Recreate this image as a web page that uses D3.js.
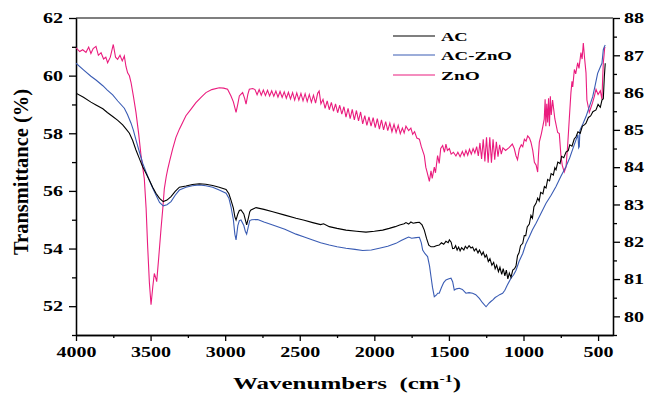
<!DOCTYPE html>
<html>
<head>
<meta charset="utf-8">
<script src="https://cdn.jsdelivr.net/npm/d3@7"></script>
<style>
  body { margin: 0; background: #fff; }
  svg { display: block; }
  text { font-family: "Liberation Serif", "Times New Roman", serif; font-weight: bold; }
</style>
</head>
<body>
<div id="chart"></div>
<script>
// series names and colours
const seriesNames = ["AC", "AC-ZnO", "ZnO"];
const seriesColors = ["#000000", "#3a5cb4", "#ea1c7e"];

// tick labels
const xTicks = [4000, 3500, 3000, 2500, 2000, 1500, 1000, 500];
const xMinor = [3750, 3250, 2750, 2250, 1750, 1250, 750];
const leftTicks = [52, 54, 56, 58, 60, 62];
const leftMinor = [51, 53, 55, 57, 59, 61];
const rightTicks = [80, 81, 82, 83, 84, 85, 86, 87, 88];
const rightMinor = [79.5, 80.5, 81.5, 82.5, 83.5, 84.5, 85.5, 86.5, 87.5];

// AC : [wavenumber, transmittance] (left axis)
const acData = [[4000,59.39],[3950,59.25],[3900,59.08],[3866,58.98],[3820,58.85],[3790,58.72],[3754,58.58],[3720,58.45],[3687,58.29],[3665,58.15],[3642,58.0],[3620,57.75],[3598,57.42],[3575,57.12],[3553,56.84],[3530,56.6],[3509,56.38],[3486,56.13],[3464,55.92],[3440,55.74],[3415,55.63],[3390,55.68],[3363,55.8],[3335,55.98],[3307,56.13],[3263,56.17],[3220,56.22],[3173,56.25],[3130,56.23],[3084,56.19],[3040,56.13],[2994,56.05],[2975,55.9],[2961,55.68],[2945,55.4],[2935,55.1],[2927,54.99],[2915,55.2],[2905,55.32],[2894,55.34],[2875,55.2],[2865,55.0],[2856,54.82],[2845,55.05],[2835,55.28],[2827,55.34],[2793,55.42],[2740,55.36],[2681,55.28],[2600,55.16],[2525,55.05],[2470,54.98],[2413,54.9],[2360,54.83],[2340,54.86],[2302,54.76],[2250,54.7],[2190,54.64],[2120,54.6],[2056,54.57],[2000,54.6],[1944,54.64],[1900,54.7],[1860,54.76],[1830,54.82],[1800,54.86],[1788,54.9],[1770,54.85],[1755,54.92],[1740,54.88],[1720,54.9],[1698,54.91],[1680,54.82],[1665,54.64],[1650,54.35],[1635,54.12],[1620,54.06],[1600,54.06],[1585,54.1],[1565,54.12],[1550,54.2],[1535,54.15],[1520,54.25],[1505,54.2],[1497,54.3],[1485,54.22],[1475,54.0],[1464,54.01],[1455,54.1],[1445,53.95],[1435,54.05],[1425,53.92],[1415,54.03],[1400,53.95],[1390,54.08],[1378,54.0],[1365,54.1],[1352,54.02],[1341,54.05],[1330,53.92],[1318,54.0],[1305,53.85],[1295,53.95],[1280,53.78],[1270,53.88],[1258,53.7],[1248,53.78],[1236,53.55],[1225,53.65],[1212,53.42],[1200,53.52],[1190,53.3],[1180,53.42],[1168,53.2],[1158,53.35],[1146,53.1],[1136,53.3],[1125,53.05],[1115,53.25],[1105,52.95],[1095,53.15],[1084,53.0],[1072,53.25],[1060,53.3],[1050,53.4],[1040,53.75],[1030,53.85],[1020,54.1],[1005,54.18],[995,54.45],[985,54.45],[975,54.75],[961,54.85],[950,55.15],[940,55.05],[930,55.45],[916,55.57],[905,55.75],[895,55.65],[885,55.95],[870,55.9],[860,56.15],[849,56.1],[838,56.4],[825,56.35],[815,56.6],[800,56.55],[790,56.8],[782,56.73],[770,57.0],[755,56.95],[745,57.2],[730,57.15],[715,57.35],[700,57.4],[690,57.6],[675,57.55],[660,57.8],[648,57.88],[635,58.05],[620,58.0],[605,58.25],[590,58.3],[581,58.35],[565,58.55],[550,58.6],[535,58.75],[514,58.81],[500,59.0],[485,58.9],[474,59.15],[465,59.2],[458,59.96],[452,60.43]];

// AC-ZnO (left axis)
const acZnoData = [[4000,60.43],[3950,60.2],[3900,59.98],[3866,59.85],[3820,59.65],[3790,59.5],[3754,59.33],[3720,59.12],[3676,58.87],[3655,58.65],[3631,58.35],[3615,58.1],[3598,57.77],[3575,57.35],[3553,56.96],[3530,56.65],[3509,56.38],[3486,56.1],[3464,55.86],[3440,55.6],[3415,55.48],[3390,55.52],[3363,55.63],[3335,55.85],[3307,56.03],[3263,56.13],[3220,56.18],[3173,56.21],[3130,56.18],[3084,56.13],[3040,56.03],[2994,55.92],[2975,55.75],[2961,55.45],[2945,55.0],[2935,54.5],[2927,54.3],[2915,54.8],[2905,54.97],[2894,54.99],[2875,54.8],[2865,54.6],[2856,54.5],[2845,54.75],[2835,54.97],[2822,55.0],[2782,55.01],[2740,54.92],[2681,54.82],[2600,54.67],[2525,54.5],[2470,54.4],[2413,54.3],[2360,54.2],[2302,54.12],[2250,54.06],[2190,54.01],[2130,53.97],[2078,53.93],[2020,53.95],[1967,54.01],[1910,54.08],[1855,54.18],[1820,54.28],[1788,54.36],[1770,54.4],[1750,54.36],[1720,54.38],[1698,54.39],[1685,54.2],[1676,53.95],[1660,53.82],[1643,53.72],[1630,53.4],[1620,53.02],[1610,52.65],[1598,52.33],[1585,52.38],[1575,52.45],[1565,52.45],[1550,52.65],[1535,52.82],[1520,52.91],[1500,52.95],[1486,52.97],[1475,52.85],[1464,52.56],[1450,52.6],[1430,52.62],[1410,52.58],[1386,52.45],[1365,52.47],[1341,52.45],[1320,52.4],[1296,52.27],[1275,52.12],[1251,51.98],[1240,52.05],[1228,52.12],[1215,52.18],[1207,52.21],[1190,52.3],[1175,52.35],[1160,52.4],[1140,52.45],[1125,52.55],[1110,52.72],[1084,52.97],[1065,53.1],[1050,53.25],[1030,53.55],[1005,53.83],[985,54.15],[961,54.41],[940,54.65],[916,54.88],[880,55.25],[849,55.57],[815,55.85],[782,56.15],[750,56.5],[715,56.85],[690,57.15],[670,57.45],[648,57.77],[635,57.95],[630,57.5],[626,57.54],[622,58.1],[600,58.35],[581,58.58],[560,58.9],[536,59.27],[520,59.65],[503,60.08],[485,60.3],[474,60.43],[465,60.9],[458,61.0],[452,61.06]];

// ZnO (right axis)
const znoData = [[4000,87.2],[3975,87.1],[3955,87.15],[3933,87.08],[3915,87.22],[3900,87.05],[3885,87.18],[3866,87.24],[3850,87.0],[3832,87.07],[3815,86.9],[3800,86.95],[3788,86.8],[3770,86.95],[3750,87.29],[3735,86.95],[3721,86.89],[3705,87.0],[3690,86.85],[3676,86.98],[3665,86.7],[3654,86.53],[3642,86.45],[3631,86.27],[3615,85.9],[3598,85.47],[3580,84.9],[3564,84.31],[3542,83.69],[3530,82.9],[3520,81.91],[3508,80.9],[3497,80.31],[3485,80.8],[3475,81.15],[3467,81.05],[3459,80.93],[3445,81.6],[3430,82.35],[3418,82.9],[3408,83.42],[3395,83.75],[3385,83.95],[3370,84.2],[3352,84.49],[3330,84.8],[3307,85.02],[3285,85.2],[3263,85.38],[3230,85.55],[3196,85.73],[3160,85.88],[3129,86.0],[3090,86.08],[3040,86.13],[3010,86.12],[2984,86.09],[2961,85.91],[2945,85.75],[2927,85.47],[2915,85.7],[2905,85.91],[2895,85.95],[2883,86.0],[2870,85.85],[2860,85.69],[2848,85.95],[2838,86.09],[2815,86.11],
  [2800,86.08],[2786,85.94],[2772,86.08],[2758,85.93],[2744,86.07],[2730,85.92],[2716,86.06],[2702,85.91],[2688,86.05],[2674,85.9],[2660,86.04],[2646,85.88],[2632,86.03],[2618,85.87],[2604,86.02],[2590,85.85],[2576,86.01],[2562,85.83],[2548,86.0],[2534,85.8],[2520,85.99],[2506,85.8],[2492,85.98],[2478,85.78],[2464,85.97],[2450,85.76],[2436,85.95],[2422,85.74],[2408,85.93],[2394,85.72],[2380,85.98],[2370,86.04],[2358,85.7],[2344,85.82],[2330,85.58],[2316,85.78],[2302,85.54],[2288,85.74],[2274,85.5],[2260,85.7],[2246,85.46],[2232,85.66],[2218,85.42],[2204,85.62],[2190,85.34],[2176,85.58],[2162,85.3],[2148,85.55],[2134,85.27],[2120,85.52],[2106,85.24],[2092,85.48],[2078,85.16],[2064,85.38],[2050,85.12],[2036,85.35],[2022,85.1],[2008,85.33],[1994,85.06],[1980,85.3],[1966,85.02],[1952,85.27],[1938,85.0],[1924,85.22],[1910,84.98],[1896,85.18],[1882,84.95],[1868,85.15],[1854,84.93],[1840,85.12],[1826,84.9],[1812,85.05],[1800,84.92],[1788,85.1],
  [1770,84.98],[1755,85.05],[1743,84.88],[1730,84.95],[1715,84.78],[1698,84.75],[1685,84.55],[1665,84.31],[1655,84.0],[1645,83.85],[1631,83.62],[1620,83.9],[1612,83.7],[1598,84.0],[1590,83.85],[1576,84.31],[1565,84.1],[1555,84.5],[1542,84.58],[1530,84.4],[1520,84.62],[1510,84.45],[1497,84.5],[1485,84.35],[1470,84.4],[1453,84.3],[1440,84.4],[1425,84.28],[1410,84.42],[1398,84.3],[1386,84.45],[1374,84.32],[1362,84.48],[1350,84.35],[1338,84.5],[1326,84.38],
  [1314,84.55],[1303,84.3],[1292,84.65],[1281,84.22],[1270,84.75],[1259,84.15],[1248,84.8],[1237,84.12],[1226,84.8],[1215,84.12],[1204,84.75],[1193,84.2],[1182,84.68],[1171,84.28],[1160,84.6],[1149,84.35],[1138,84.52],
  [1120,84.45],[1095,84.53],[1075,84.62],[1062,84.5],[1050,84.3],[1040,84.2],[1028,84.49],[1015,84.6],[1005,84.55],[994,84.75],[983,84.7],[972,84.84],[960,84.78],[950,84.67],[938,84.45],[927,84.13],[915,84.05],[905,83.87],[900,84.3],[894,84.67],[880,84.9],[870,85.1],[861,85.29],[855,85.82],[850,85.1],[844,85.7],[838,85.2],[832,85.85],[826,85.1],[820,85.9],[814,85.4],[805,85.8],[790,85.3],[771,84.93],[760,84.9],[749,84.31],[740,84.05],[727,83.87],[715,84.0],[704,84.58],[693,85.3],[682,86.0],[675,86.3],[670,86.15],[659,86.62],[650,86.5],[637,86.8],[628,86.65],[615,87.07],[607,86.9],[599,87.33],[590,86.9],[581,86.53],[575,85.8],[565,85.6],[559,85.47],[548,85.6],[537,85.73],[525,85.9],[514,86.09],[500,85.95],[485,86.05],[474,85.82],[470,86.3],[465,86.8],[460,87.0],[456,87.2],[452,87.22]];

const width = 646;
const height = 394;
const plotLeft = 76, plotRight = 613, plotTop = 18, plotBottom = 335;

const svg = d3.select("#chart")
  .append("svg")
  .attr("width", width)
  .attr("height", height);

const x = d3.scaleLinear().domain([4000, 400]).range([plotLeft, plotRight]);
const yL = d3.scaleLinear().domain([51, 62]).range([plotBottom, plotTop]);
const yR = d3.scaleLinear().domain([79.5, 88]).range([plotBottom, plotTop]);

svg.append("clipPath").attr("id", "clip")
  .append("rect")
  .attr("x", plotLeft).attr("y", plotTop)
  .attr("width", plotRight - plotLeft).attr("height", plotBottom - plotTop);

// stretch tick labels a bit, the original font is wide
function styleTicks(g) {
  g.selectAll(".tick text")
    .attr("font-size", 15)
    .attr("fill", "#000")
    .attr("textLength", function () { return this.textContent.length * 10; })
    .attr("lengthAdjust", "spacingAndGlyphs");
  g.selectAll("line, path").attr("stroke", "#000").attr("stroke-width", 1.3);
}

// top frame line
svg.append("line")
  .attr("x1", plotLeft).attr("x2", plotRight)
  .attr("y1", plotTop).attr("y2", plotTop)
  .attr("stroke", "#555").attr("stroke-width", 1.3);

// bottom axis
svg.append("g")
  .attr("transform", `translate(0,${plotBottom})`)
  .call(d3.axisBottom(x).tickValues(xTicks).tickFormat(d3.format("d"))
    .tickSize(6).tickSizeOuter(0).tickPadding(5))
  .call(styleTicks);
svg.append("g")
  .attr("transform", `translate(0,${plotBottom})`)
  .call(d3.axisBottom(x).tickValues(xMinor).tickSize(3).tickSizeOuter(0).tickFormat(""))
  .call(styleTicks);

// left axis
svg.append("g")
  .attr("transform", `translate(${plotLeft},0)`)
  .call(d3.axisLeft(yL).tickValues(leftTicks).tickSize(7).tickSizeOuter(0).tickPadding(6))
  .call(styleTicks);
svg.append("g")
  .attr("transform", `translate(${plotLeft},0)`)
  .call(d3.axisLeft(yL).tickValues(leftMinor).tickSize(4).tickSizeOuter(0).tickFormat(""))
  .call(styleTicks);

// right axis
svg.append("g")
  .attr("transform", `translate(${plotRight},0)`)
  .call(d3.axisRight(yR).tickValues(rightTicks).tickSize(7).tickSizeOuter(0).tickPadding(4))
  .call(styleTicks);
svg.append("g")
  .attr("transform", `translate(${plotRight},0)`)
  .call(d3.axisRight(yR).tickValues(rightMinor).tickSize(4).tickSizeOuter(0).tickFormat(""))
  .call(styleTicks);

// spectra
const lineL = d3.line().x(d => x(d[0])).y(d => yL(d[1]));
const lineR = d3.line().x(d => x(d[0])).y(d => yR(d[1]));

const plot = svg.append("g").attr("clip-path", "url(#clip)");
plot.append("path").datum(znoData)
  .attr("d", lineR).attr("fill", "none")
  .attr("stroke", seriesColors[2]).attr("stroke-width", 1.1);
plot.append("path").datum(acZnoData)
  .attr("d", lineL).attr("fill", "none")
  .attr("stroke", seriesColors[1]).attr("stroke-width", 1.1);
plot.append("path").datum(acData)
  .attr("d", lineL).attr("fill", "none")
  .attr("stroke", seriesColors[0]).attr("stroke-width", 1.1);

// axis titles
svg.append("text")
  .attr("transform", "translate(27.5,172) rotate(-90)")
  .attr("text-anchor", "middle")
  .attr("font-size", 20)
  .attr("textLength", 166)
  .attr("lengthAdjust", "spacingAndGlyphs")
  .text("Transmittance (%)");

const xt = svg.append("text")
  .attr("x", 233).attr("y", 389)
  .attr("font-size", 17.5)
  .attr("textLength", 228)
  .attr("lengthAdjust", "spacingAndGlyphs")
  .attr("xml:space", "preserve");
xt.append("tspan").text("Wavenumbers  (cm");
xt.append("tspan").attr("dy", -7).attr("font-size", 11).text("-1");
xt.append("tspan").attr("dy", 7).text(")");

// legend
const legendY = [36, 55, 75];
const legendW = [26.7, 71, 38.7];
const legend = svg.append("g");
seriesNames.forEach((name, i) => {
  legend.append("line")
    .attr("x1", 393).attr("x2", 435)
    .attr("y1", legendY[i]).attr("y2", legendY[i])
    .attr("stroke", seriesColors[i]).attr("stroke-width", 1.2);
  legend.append("text")
    .attr("x", 441).attr("y", legendY[i] + 5)
    .attr("font-size", 13.5)
    .attr("textLength", legendW[i])
    .attr("lengthAdjust", "spacingAndGlyphs")
    .text(name);
});
</script>
</body>
</html>
